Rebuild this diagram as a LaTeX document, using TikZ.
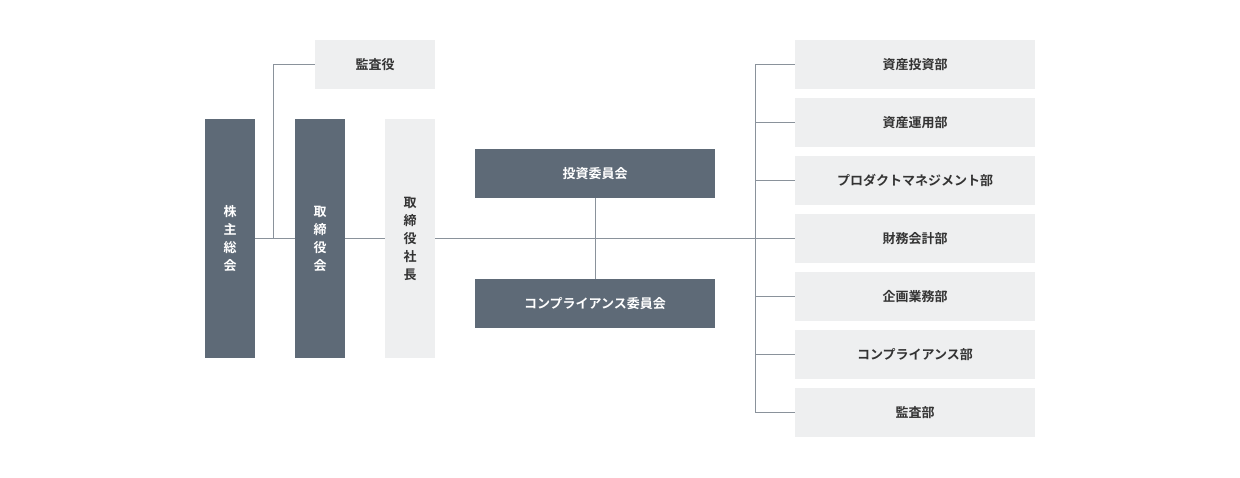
\documentclass[tikz,border=0pt]{standalone}
\usepackage{fontspec}
\setmainfont{Noto Sans CJK JP}[BoldFont={* Bold}]
\usetikzlibrary{positioning}
\definecolor{darkbox}{HTML}{5E6A77}
\definecolor{lightbox}{HTML}{EEEFF0}
\definecolor{linegray}{HTML}{8A929B}
\tikzset{
  darkv/.style={fill=darkbox, text=white, minimum width=50pt, minimum height=239pt, align=center, font=\bfseries\fontsize{13}{18}\selectfont, inner sep=0pt},
  lightv/.style={darkv, fill=lightbox, text=black!80},
  darkh/.style={fill=darkbox, text=white, minimum width=240pt, minimum height=49pt, font=\bfseries\fontsize{13}{16}\selectfont, inner sep=0pt},
  lighth/.style={darkh, fill=lightbox, text=black!80},
  conn/.style={draw=linegray, line width=1pt}
}
\begin{document}
\begin{tikzpicture}[x=1pt,y=-1pt]
    \useasboundingbox (0,0) rectangle (1240,478);
    \node[darkv] (kabu) at (230,238.5) {株\\主\\総\\会};
    \node[darkv] (tori) at (320,238.5) {取\\締\\役\\会};
    \node[lightv] (shacho) at (410,238.5) {取\\締\\役\\社\\長};
    \node[lighth, minimum width=120pt] (kansayaku) at (375,64.5) {監査役};
    \node[darkh] (toshi) at (595,173.5) {投資委員会};
    \node[darkh] (compi) at (595,303.5) {コンプライアンス委員会};

    \node[lighth] (d1) at (915,64.5) {資産投資部};
    \node[lighth] (d2) at (915,122.5) {資産運用部};
    \node[lighth] (d3) at (915,180.5) {プロダクトマネジメント部};
    \node[lighth] (d4) at (915,238.5) {財務会計部};
    \node[lighth] (d5) at (915,296.5) {企画業務部};
    \node[lighth] (d6) at (915,354.5) {コンプライアンス部};
    \node[lighth] (d7) at (915,412.5) {監査部};

    \coordinate (bus) at (755,238.5);
    \coordinate (split) at (273,238.5);
    % main line
    \draw[conn] (kabu.east |- bus) -- (tori.west |- bus);
    \draw[conn] (tori.east |- bus) -- (shacho.west |- bus);
    \draw[conn] (shacho.east |- bus) -- (bus);
    \draw[conn] (split) -- (split |- kansayaku) -- (kansayaku.west);
    \draw[conn] (toshi.south) -- (compi.north);
    % departments
    \draw[conn] (bus |- d1) -- (bus |- d7);
    \foreach \d in {d1,d2,d3,d4,d5,d6,d7}
      \draw[conn] (bus |- \d) -- (\d.west);
\end{tikzpicture}
\end{document}
